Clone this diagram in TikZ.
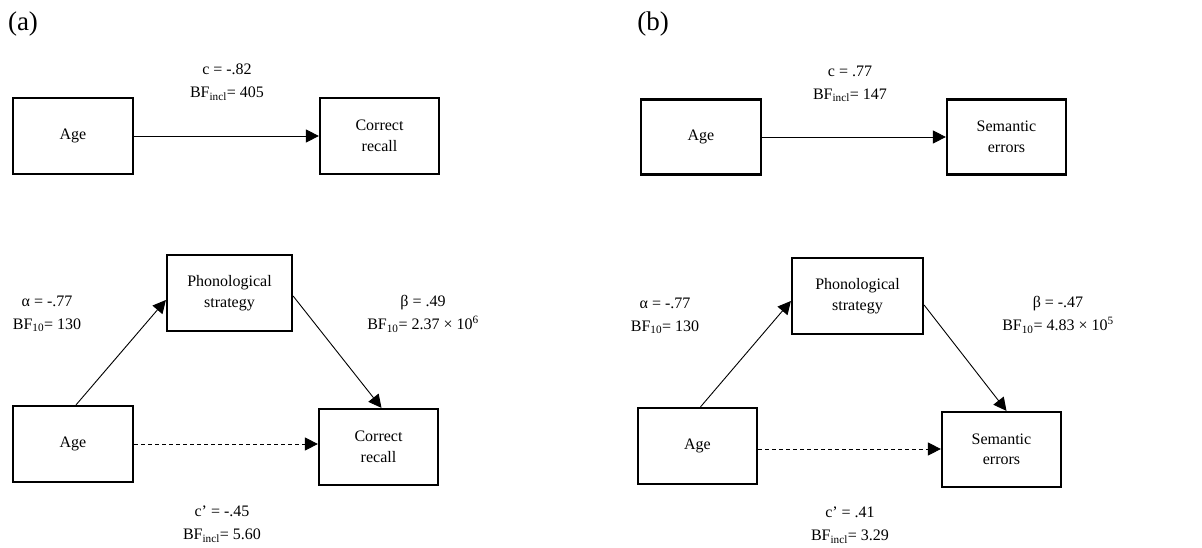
\documentclass[tikz,border=0pt]{standalone}
\usepackage{fontspec}
\setmainfont{Liberation Serif}
\usetikzlibrary{arrows.meta}
\begin{document}
\begin{tikzpicture}[x=1pt,y=-1pt,
  box/.style={draw=black,line width=2.2pt,align=center,inner sep=0pt,
    font=\fontsize{16}{20.5}\selectfont},
  lbl/.style={align=center,inner sep=0pt,font=\fontsize{16}{23}\selectfont},
  panel/.style={inner sep=0pt,font=\fontsize{27}{30}\selectfont},
  arr/.style={line width=0.9pt,-{Triangle[length=13pt,width=13pt]}},
  dsh/.style={arr,dash pattern=on 4pt off 3pt}]
\useasboundingbox[fill=white] (0,0) rectangle (1202,548);
% panel labels
\node[panel] (pa) at (23,24) {(a)};
\node[panel] (pb) at (653,24) {(b)};
% (a) top
\node[box,minimum width=120pt,minimum height=76pt] (ageA) at (73,136) {Age};
\node[box,minimum width=119pt,minimum height=76pt] (corA) at (379.5,136) {Correct\\recall};
\draw[arr] (ageA) -- (corA);
\node[lbl] (lcA) at (227,82) {c = -.82\\BF\textsubscript{incl}= 405};
% (a) bottom
\node[box,minimum width=125pt,minimum height=76pt] (phA) at (229.5,293) {Phonological\\strategy};
\node[box,minimum width=120pt,minimum height=76pt] (ageA2) at (73,444) {Age};
\node[box,minimum width=119pt,minimum height=76pt] (corA2) at (378.5,447) {Correct\\recall};
\draw[arr] ([xshift=3pt]ageA2.north) -- ([yshift=-7pt]phA.west);
\draw[arr] ([yshift=-3pt]phA.east) -- ([xshift=3pt]corA2.north);
\draw[dsh] (ageA2.east) -- (corA2.west |- ageA2.east);
\node[lbl] (laA) at (47,314) {α = -.77\\BF\textsubscript{10}= 130};
\node[lbl] (lbA) at (423,314) {β = .49\\BF\textsubscript{10}= 2.37 × 10\textsuperscript{6}};
\node[lbl] (lcpA) at (222,524) {c’ = -.45\\BF\textsubscript{incl}= 5.60};
% (b) top
\node[box,minimum width=120pt,minimum height=75pt] (ageB) at (701,137) {Age};
\node[box,minimum width=119pt,minimum height=75pt] (semB) at (1006.5,137) {Semantic\\errors};
\draw[arr] (ageB) -- (semB);
\node[lbl] (lcB) at (850,84) {c = .77\\BF\textsubscript{incl}= 147};
% (b) bottom
\node[box,minimum width=131pt,minimum height=76pt] (phB) at (857.5,296) {Phonological\\strategy};
\node[box,minimum width=119pt,minimum height=76pt] (ageB2) at (697.5,446) {Age};
\node[box,minimum width=119pt,minimum height=75pt] (semB2) at (1001.5,449.5) {Semantic\\errors};
\draw[arr] ([xshift=3pt]ageB2.north) -- ([yshift=-5pt]phB.west);
\draw[arr] ([yshift=-9pt]phB.east) -- ([xshift=5pt]semB2.north);
\coordinate (dB) at ([yshift=-3pt]ageB2.east);
\draw[dsh] (dB) -- (semB2.west |- dB);
\node[lbl] (laB) at (665,316) {α = -.77\\BF\textsubscript{10}= 130};
\node[lbl] (lbB) at (1058,315) {β = -.47\\BF\textsubscript{10}= 4.83 × 10\textsuperscript{5}};
\node[lbl] (lcpB) at (850,525) {c’ = .41\\BF\textsubscript{incl}= 3.29};
\end{tikzpicture}
\end{document}
